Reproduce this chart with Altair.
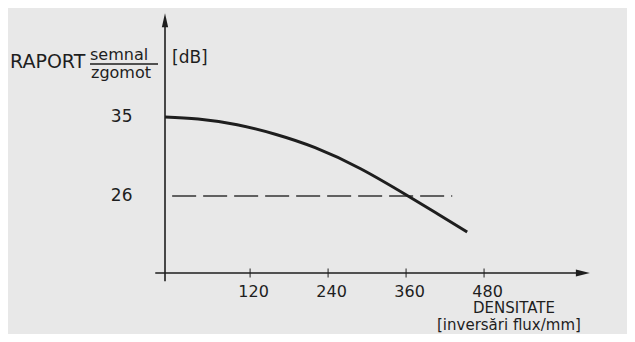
import altair as alt
import pandas as pd

# Curve: signal/noise ratio (dB) vs density (flux reversals / mm)
density = [-11, 40, 100, 160, 220, 290, 363, 410, 454]
snr_db = [35.0, 34.75, 34.1, 33.0, 31.5, 29.1, 26.0, 23.9, 21.9]

# Threshold (dashed) line
thr_x = [0, 431]
thr_y = [26, 26]

x_ticks = [120, 240, 360, 480]
y_ticks = [35, 26]

X_MIN, X_MAX = -11, 643
Y_MIN, Y_MAX = 17.23, 46.6

FONT = "DejaVu Sans"
INK = "#1e1e1e"

xs = alt.Scale(domain=[X_MIN, X_MAX], nice=False, zero=False)
ys = alt.Scale(domain=[Y_MIN, Y_MAX], nice=False, zero=False)

curve_df = pd.DataFrame({"x": density, "y": snr_db})
thr_df = pd.DataFrame({"x": thr_x, "y": thr_y})
tick_df = pd.DataFrame({"x": x_ticks, "y": [Y_MIN] * len(x_ticks)})

x_axis = alt.Axis(values=x_ticks, domain=False, ticks=False, grid=False, labelPadding=10,
                  labelFont=FONT, labelFontSize=16, labelColor=INK, title=None, labelOffset=3)
y_axis = alt.Axis(values=y_ticks, domain=False, ticks=False, grid=False, labelPadding=33,
                  labelFont=FONT, labelFontSize=17, labelColor=INK, title=None)

base_x = alt.X("x:Q", scale=xs, axis=x_axis)
base_y = alt.Y("y:Q", scale=ys, axis=y_axis)

curve = alt.Chart(curve_df).mark_line(color=INK, strokeWidth=3, interpolate="natural", clip=False).encode(
    x=base_x, y=base_y)

thr = alt.Chart(thr_df).mark_line(color="#333333", strokeWidth=1.6, strokeDash=[24, 7], clip=False).encode(
    x=alt.X("x:Q", scale=xs), y=alt.Y("y:Q", scale=ys))

axes_df = pd.DataFrame({
    "x": [-26, -11], "x2": [632, -11],
    "y": [Y_MIN, 16.3], "y2": [Y_MIN, 46.0],
})
axes = alt.Chart(axes_df).mark_rule(color=INK, strokeWidth=1.6, clip=False).encode(
    x=alt.X("x:Q", scale=xs), x2="x2:Q", y=alt.Y("y:Q", scale=ys), y2="y2:Q")

ticks = alt.Chart(tick_df).mark_tick(color=INK, thickness=1.4, size=9, orient="vertical", clip=False).encode(
    x=alt.X("x:Q", scale=xs), y=alt.Y("y:Q", scale=ys))

arrow_df = pd.DataFrame({"x": [-11, 632], "y": [46.0, Y_MIN], "shape": ["up", "right"]})
arrow_up = alt.Chart(arrow_df[arrow_df["shape"] == "up"]).mark_point(
    shape="M0,-1L0.45,1L-0.45,1Z", filled=True, color=INK, opacity=1, size=196, clip=False).encode(
    x=alt.X("x:Q", scale=xs), y=alt.Y("y:Q", scale=ys))
arrow_right = alt.Chart(arrow_df[arrow_df["shape"] == "right"]).mark_point(
    shape="M1,0L-1,0.5L-1,-0.5Z", filled=True, color=INK, opacity=1, size=196, clip=False).encode(
    x=alt.X("x:Q", scale=xs), y=alt.Y("y:Q", scale=ys))

def label(txt, x, y, size=16, align="left"):
    return alt.Chart(pd.DataFrame({"t": [txt]})).mark_text(
        font=FONT, fontSize=size, color=INK, align=align, baseline="alphabetic").encode(
        text="t:N", x=alt.value(x), y=alt.value(y))

frac_line = alt.Chart(pd.DataFrame({"a": [0]})).mark_rule(color=INK, strokeWidth=1.3).encode(
    x=alt.value(-75), x2=alt.value(-7), y=alt.value(49))

texts = [
    label("RAPORT", -155, 53, 19),
    label("semnal", -75, 45, 16),
    label("zgomot", -74, 63, 16),
    label("[dB]", 7, 48, 17),
    label("DENSITATE", 308, 298, 15),
    label("[inversări flux/mm]", 272, 315, 15),
]

chart = alt.layer(axes, thr, curve, ticks, arrow_up, arrow_right, frac_line, *texts).properties(
    width=425, height=258,
    autosize=alt.AutoSizeParams(type="none"),
    padding={"left": 157, "top": 7, "right": 37, "bottom": 61},
    background="#e8e8e8",
).configure_view(stroke=None)

chart.save("out.html", embed_options={"renderer": "svg", "actions": False})
